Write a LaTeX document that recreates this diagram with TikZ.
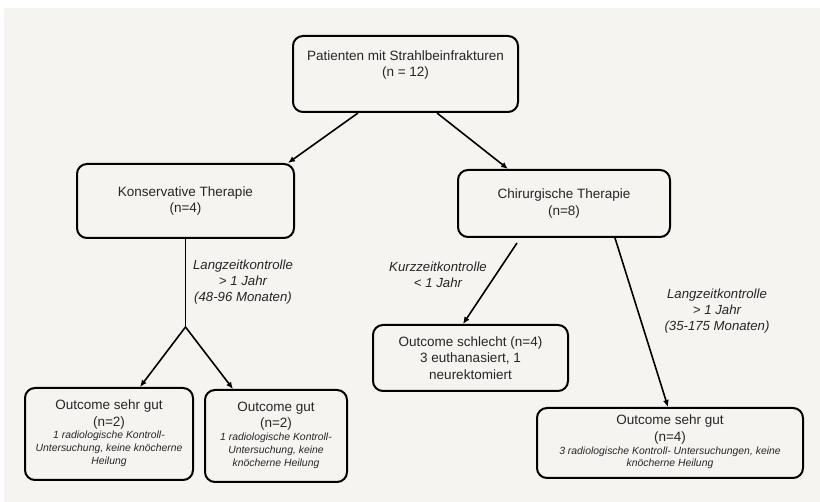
\documentclass[tikz,border=0pt]{standalone}
\usepackage{fontspec}
\setmainfont{Liberation Sans}
\usetikzlibrary{arrows.meta,calc}
\definecolor{bg}{HTML}{F6F4F1}
\definecolor{txt}{HTML}{262626}
\newcommand\smtxt[1]{{\fontsize{10.4}{12.8}\selectfont\itshape\begin{tabular}{@{}c@{}}#1\end{tabular}}}
\begin{document}
\begin{tikzpicture}[x=1pt,y=-1pt,
 box/.style={draw=black, line width=2pt, rounded corners=10pt, fill=bg, align=center, inner sep=0pt, text=txt, font=\fontsize{13.5}{16.5}\selectfont},
 conn/.style={line width=1.6pt, draw=black},
 arr/.style={conn, -{Latex[length=7pt,width=6pt]}},
 lbl/.style={align=center, text=txt, inner sep=0pt, font=\fontsize{13.2}{16.3}\selectfont\itshape}]
\useasboundingbox (0,0) rectangle (820,502);
\fill[white] (0,0) rectangle (820,502);
\fill[bg] (4,8) rectangle (820,502);

\node[box, minimum width=225pt, minimum height=76pt] (top) at (405.5,74) {Patienten mit Strahlbeinfrakturen\\(n = 12)\\[4pt]};
\node[box, minimum width=217pt, minimum height=74pt] (kons) at (185.5,201) {Konservative Therapie\\(n=4)};
\node[box, minimum width=212pt, minimum height=67pt] (chir) at (564,203.5) {Chirurgische Therapie\\(n=8)};
\node[box, minimum width=168pt, minimum height=92pt] (o1) at (109,434) {Outcome sehr gut\\(n=2)\\\smtxt{1 radiologische Kontroll-\\Untersuchung, keine knöcherne\\Heilung}};
\node[box, minimum width=142pt, minimum height=92pt] (o2) at (276,436) {Outcome gut\\(n=2)\\\smtxt{1 radiologische Kontroll-\\Untersuchung, keine\\knöcherne Heilung}};
\node[box, minimum width=195pt, minimum height=66pt] (schl) at (470.5,358) {Outcome schlecht (n=4)\\3 euthanasiert, 1\\neurektomiert};
\node[box, minimum width=266pt, minimum height=70pt] (o4) at (670,443) {Outcome sehr gut\\(n=4)\\\smtxt{3 radiologische Kontroll- Untersuchungen, keine\\knöcherne Heilung}};

\draw[arr] ([xshift=-47.5pt]top.south) -- ([xshift=102.5pt]kons.north);
\draw[arr] ([xshift=31.5pt]top.south) -- ([xshift=-56pt]chir.north);
\coordinate (jn) at (185.5,327);
\draw[conn] (kons.south) -- (jn);
\draw[arr] (jn) -- ([xshift=31pt]o1.north);
\draw[arr] (jn) -- ([xshift=-43pt]o2.north);
\draw[arr] ([xshift=-47pt,yshift=-5pt]chir.south) -- ([xshift=-7.5pt]schl.north);
\draw[arr] ([xshift=51pt]chir.south) -- ([xshift=-2pt]o4.north);

\node[lbl] (l1) at (243,282) {Langzeitkontrolle\\> 1 Jahr\\(48-96 Monaten)};
\node[lbl] (l2) at (438,275) {Kurzzeitkontrolle\\< 1 Jahr};
\node[lbl] (l3) at (717,311) {Langzeitkontrolle\\> 1 Jahr\\(35-175 Monaten)};
\end{tikzpicture}
\end{document}
